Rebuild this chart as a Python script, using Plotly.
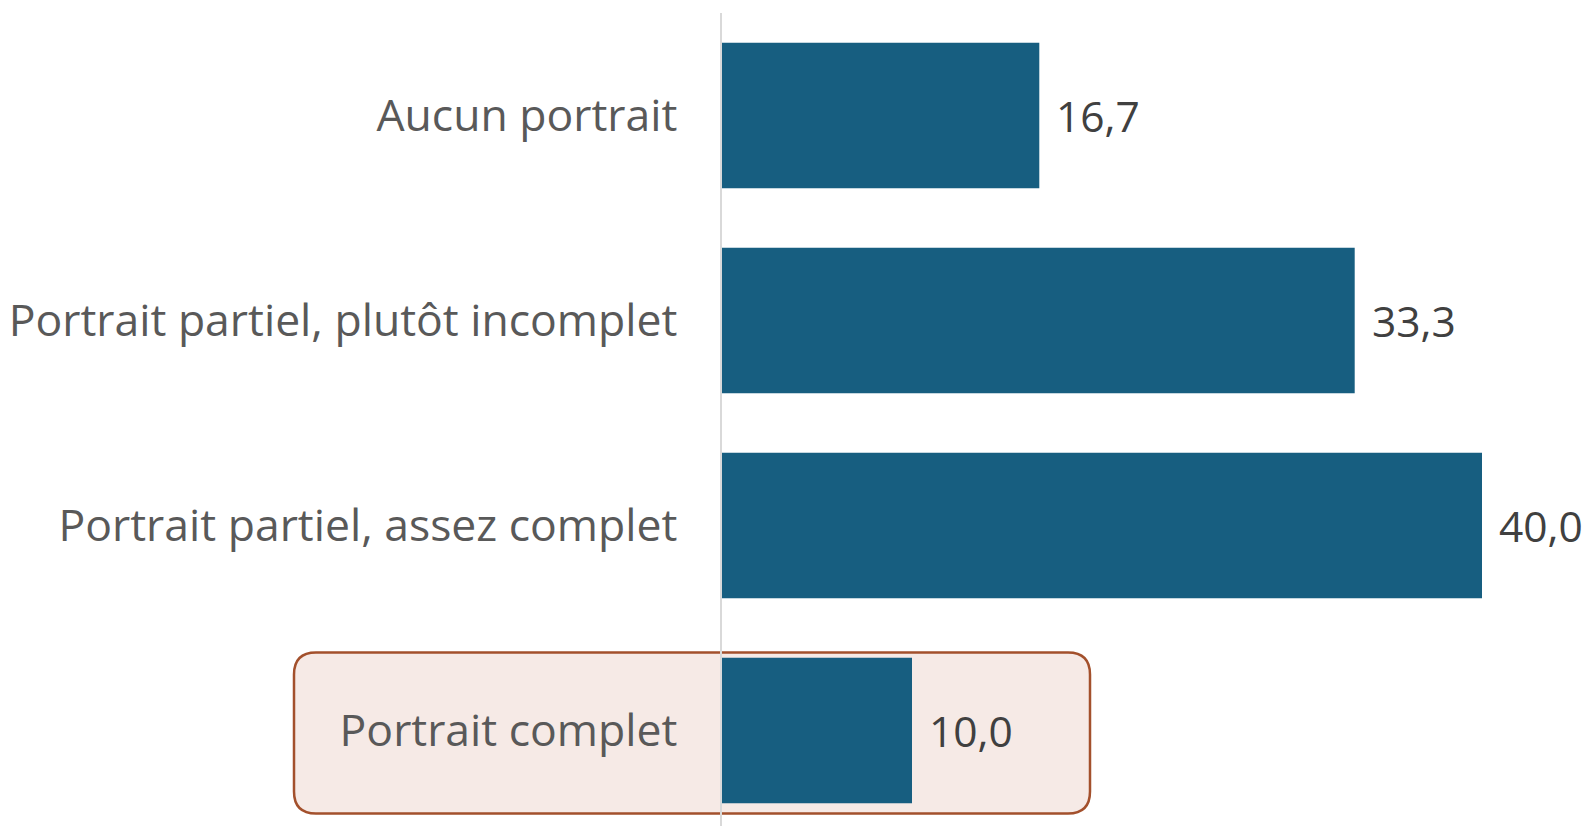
import plotly.graph_objects as go

# Share of respondents by level of portrait (%), listed bottom to top
categories = [
    "Portrait complet",
    "Portrait partiel, assez complet",
    "Portrait partiel, plutôt incomplet",
    "Aucun portrait",
]
values = [10.0, 40.0, 33.3, 16.7]
highlight = "Portrait complet"

W, H = 1595, 826
M_L, M_T, M_R, M_B = 722, 13, 0, 0
PLOT_W = W - M_L - M_R
PLOT_H = H - M_T - M_B
PX_PER_UNIT = 19.0
BAND = 205.0

BAR_COLOR = "#175E80"
LABEL_COLOR = "#595959"
VALUE_COLOR = "#404040"
FONT = "Open Sans"
LABEL_SIZE = 44.5
VALUE_SIZE = 42.5

fig = go.Figure()
fig.add_trace(go.Bar(
    y=categories,
    x=values,
    orientation="h",
    marker=dict(color=BAR_COLOR, line=dict(width=0)),
    width=0.71,
    hoverinfo="skip",
))

# value labels next to each bar
for c, v in zip(categories, values):
    fig.add_annotation(
        x=v, y=c, xref="x", yref="y",
        text=f"{v:.1f}".replace(".", ","),
        showarrow=False, xanchor="left", yanchor="middle",
        xshift=15, font=dict(family=FONT, size=VALUE_SIZE, color=VALUE_COLOR),
    )

# rounded highlight box behind the emphasised category (pixel geometry,
# converted to plot-area paper fractions)
hi = categories.index(highlight)
n = len(categories)
top_val = n - 0.5
center_px = M_T + (top_val - hi) * BAND
x0p, x1p = 294, 1090
y0p, y1p = center_px - 78, center_px + 83
r = 22


def pxp(xp):
    return (xp - M_L) / PLOT_W


def pyp(yp):
    return (H - M_B - yp) / PLOT_H


path = (
    f"M {pxp(x0p + r)},{pyp(y0p)} "
    f"L {pxp(x1p - r)},{pyp(y0p)} "
    f"Q {pxp(x1p)},{pyp(y0p)} {pxp(x1p)},{pyp(y0p + r)} "
    f"L {pxp(x1p)},{pyp(y1p - r)} "
    f"Q {pxp(x1p)},{pyp(y1p)} {pxp(x1p - r)},{pyp(y1p)} "
    f"L {pxp(x0p + r)},{pyp(y1p)} "
    f"Q {pxp(x0p)},{pyp(y1p)} {pxp(x0p)},{pyp(y1p - r)} "
    f"L {pxp(x0p)},{pyp(y0p + r)} "
    f"Q {pxp(x0p)},{pyp(y0p)} {pxp(x0p + r)},{pyp(y0p)} Z"
)
fig.add_shape(
    type="path", xref="paper", yref="paper", path=path,
    fillcolor="#F6EAE6", line=dict(color="#A3502C", width=2.5),
    layer="below",
)

fig.update_layout(
    width=W, height=H,
    margin=dict(l=M_L, r=M_R, t=M_T, b=M_B, pad=0),
    paper_bgcolor="white", plot_bgcolor="white",
    showlegend=False,
)

fig.update_xaxes(
    range=[0, PLOT_W / PX_PER_UNIT],
    showgrid=False, zeroline=False, showticklabels=False, showline=False,
    fixedrange=True,
)
fig.update_yaxes(
    categoryorder="array", categoryarray=categories,
    range=[top_val - PLOT_H / BAND, top_val],
    showgrid=False, zeroline=False,
    showline=True, linecolor="#D9D9D9", linewidth=1.5,
    ticks="", ticklabelstandoff=34,
    tickfont=dict(family=FONT, size=LABEL_SIZE, color=LABEL_COLOR),
    fixedrange=True,
)

fig.write_html("out.html")
